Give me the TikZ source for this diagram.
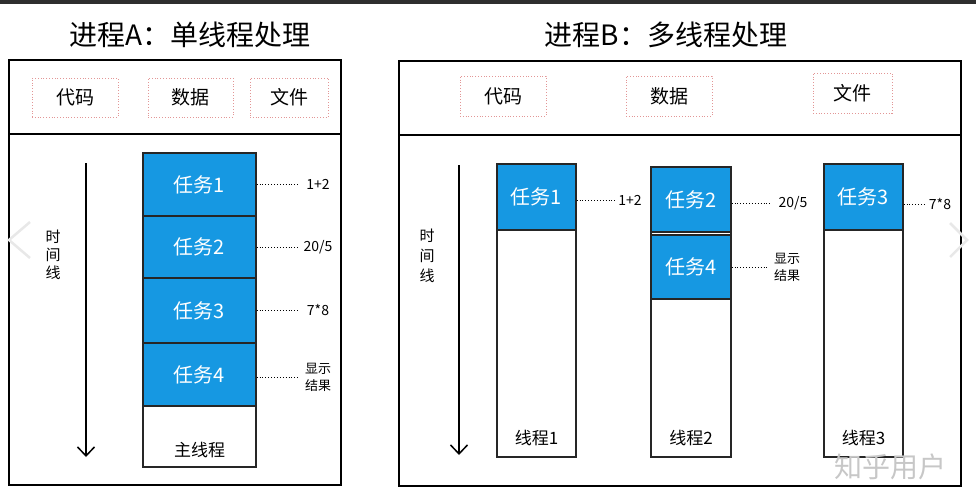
\documentclass[tikz,border=0pt]{standalone}
\usepackage{fontspec}
\setmainfont{Noto Sans CJK SC}
\usetikzlibrary{arrows.meta}
\definecolor{taskblue}{RGB}{22,152,226}
\definecolor{boxred}{RGB}{226,150,150}
\tikzset{
  panel/.style={draw=black, line width=1.6pt},
  titletext/.style={font=\fontsize{28}{28}\selectfont, inner sep=0pt},
  hdrbox/.style={draw=boxred, dotted, line width=0.8pt, inner sep=0pt,
    font=\fontsize{19}{19}\selectfont},
  taskbox/.style={draw=black!85, line width=1.3pt, fill=taskblue, text=white,
    inner sep=0pt, font=\fontsize{20}{20}\selectfont},
  threadbox/.style={draw=black!85, line width=1.3pt, fill=white, inner sep=0pt},
  threadlbl/.style={font=\fontsize{17}{17}\selectfont, inner sep=0pt},
  note/.style={font=\fontsize{14}{14}\selectfont, inner sep=0pt},
  notes/.style={font=\fontsize{13}{17}\selectfont, align=center, inner sep=0pt},
  timelbl/.style={font=\fontsize{15}{18}\selectfont, align=center, inner sep=0pt},
  dotline/.style={dotted, line width=0.9pt},
  timeline/.style={line width=1.6pt, -{Straight Barb[length=9pt,width=17pt,line width=1.5pt]}},
  carousel/.style={draw=black!9, line width=2.5pt},
}

\begin{document}
\begin{tikzpicture}[x=1pt, y=-1pt]
\useasboundingbox (0,0) rectangle (976,500);
\fill[black!82] (0,0) rectangle (976,4.5);

% titles
\node[titletext] (titleA) at (190,35) {进程A：单线程处理};
\node[titletext] (titleB) at (666,35) {进程B：多线程处理};

% process A
\draw[panel] (9,60) rectangle (341,485);
\draw[panel] (9,134) -- (341,134);
\node[hdrbox, minimum width=86pt, minimum height=39pt] (codeA) at (75,97.5) {代码};
\node[hdrbox, minimum width=85pt, minimum height=39pt] (dataA) at (190.5,97.5) {数据};
\node[hdrbox, minimum width=78pt, minimum height=39pt] (fileA) at (289,97.5) {文件};

\coordinate (ta1) at (86,163);
\coordinate (tb1) at (86,457);
\draw[timeline] (ta1) to (tb1);
\node[timelbl] (tl1) at (53,255) {时\\间\\线};

\node[threadbox, minimum width=113pt, minimum height=314pt] (mainthr) at (199.5,310) {};
\node[threadlbl] (mainlbl) at (199.5,450) {主线程};
\node[taskbox, minimum width=113pt, minimum height=63pt] (t1) at (199.5,184.5) {任务1};
\node[taskbox, minimum width=113pt, minimum height=62pt] (t2) at (199.5,247) {任务2};
\node[taskbox, minimum width=113pt, minimum height=65pt] (t3) at (199.5,310.5) {任务3};
\node[taskbox, minimum width=113pt, minimum height=63pt] (t4) at (199.5,374.5) {任务4};

\node[note] (n1) at (318,184.5) {1+2};
\node[note] (n2) at (318,247) {20/5};
\node[note] (n3) at (318,310.5) {7*8};
\node[notes] (n4) at (318,377) {显示\\结果};
\draw[dotline, shorten >=8pt] (t1) to (n1);
\draw[dotline, shorten >=5pt] (t2) to (n2);
\draw[dotline, shorten >=9pt] (t3) to (n3);
\draw[dotline, shorten >=7pt] (t4.east |- n4) to (n4);

% process B
\draw[panel] (399,61) rectangle (961,486);
\draw[panel] (399,135) -- (961,135);
\node[hdrbox, minimum width=86pt, minimum height=40pt] (codeB) at (503,96) {代码};
\node[hdrbox, minimum width=86pt, minimum height=40pt] (dataB) at (669,96) {数据};
\node[hdrbox, minimum width=79pt, minimum height=40pt] (fileB) at (852.5,93) {文件};

\coordinate (ta2) at (459,165);
\coordinate (tb2) at (459,455);
\draw[timeline] (ta2) to (tb2);
\node[timelbl, font=\fontsize{15}{20}\selectfont] (tl2) at (427,256) {时\\间\\线};

\node[threadbox, minimum width=79pt, minimum height=293pt] (thr1) at (536.5,310.5) {};
\node[threadbox, minimum width=80pt, minimum height=290pt] (thr2) at (691,312) {};
\node[threadbox, minimum width=79pt, minimum height=293pt] (thr3) at (863.5,310.5) {};
\node[threadlbl] (thrlbl1) at (536.5,438) {线程1};
\node[threadlbl] (thrlbl2) at (691,438) {线程2};
\node[threadlbl] (thrlbl3) at (863.5,438) {线程3};

\node[taskbox, minimum width=79pt, minimum height=66pt] (r1) at (536.5,197) {任务1};
\node[taskbox, minimum width=80pt, minimum height=65pt] (r2) at (691,199.5) {任务2};
\node[taskbox, minimum width=80pt, minimum height=64pt] (r4) at (691,267) {任务4};
\node[taskbox, minimum width=79pt, minimum height=66pt] (r3) at (863.5,197) {任务3};

\node[note] (m1) at (630,200) {1+2};
\node[note] (m2) at (793,203) {20/5};
\node[note] (m3) at (940,204) {7*8};
\node[notes] (m4) at (787,267) {显示\\结果};
\draw[dotline, shorten >=2pt] (r1.east |- m1) to (m1);
\draw[dotline, shorten >=7pt] (r2.east |- m2) to (m2);
\draw[dotline, shorten >=2pt] (r3.east |- m3) to (m3);
\draw[dotline, shorten >=5pt] (r4) to (m4);

% page overlays
\draw[carousel] (30,222) -- (9,240) -- (30,258);
\draw[carousel] (950,223) -- (967,240) -- (950,257);
\node[font=\fontsize{28}{28}\selectfont, text=black!22, inner sep=0pt] (wm) at (890,467) {知乎用户};
\end{tikzpicture}
\end{document}
